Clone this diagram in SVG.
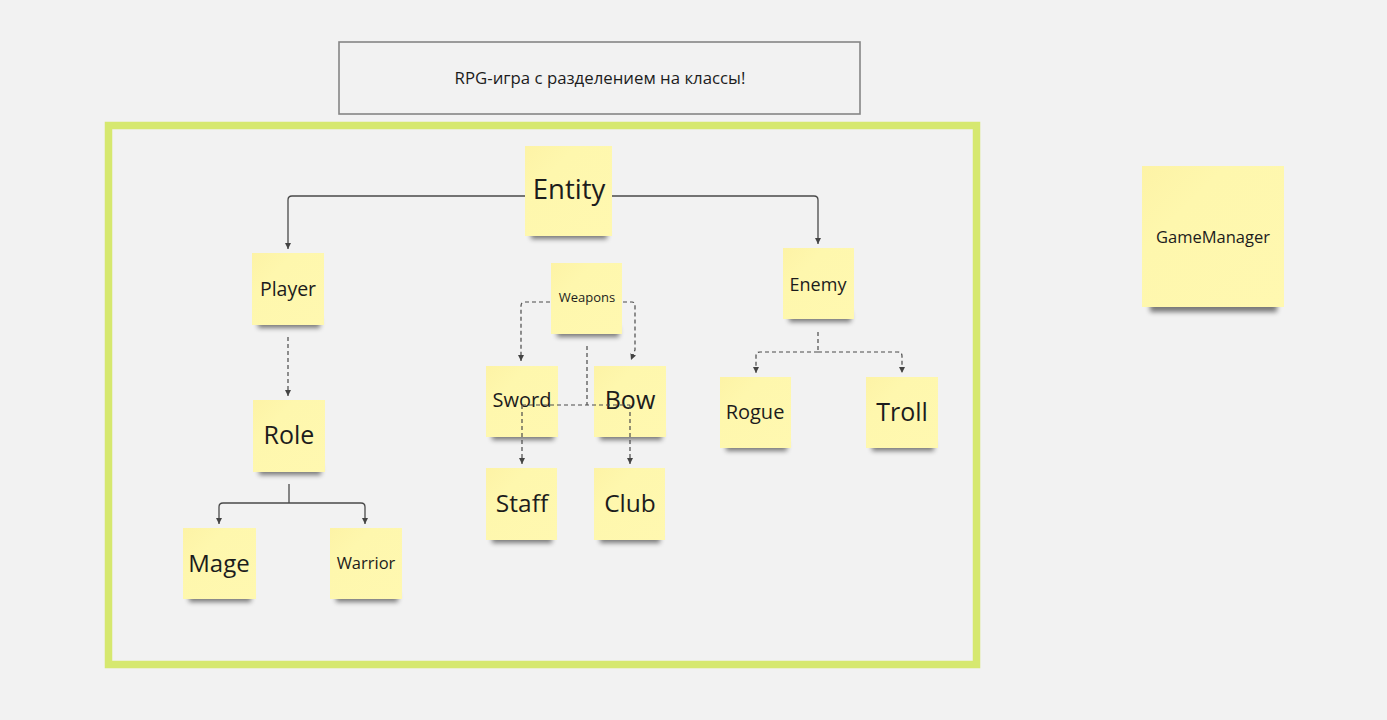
<svg xmlns="http://www.w3.org/2000/svg" width="1387" height="720" viewBox="0 0 1387 720">
<defs>
<style>
.note{fill:url(#sg)}
.sh{fill:#000;opacity:.5;filter:url(#blur)}
.t{font-family:"Open Sans","Noto Sans","Liberation Sans",sans-serif;fill:#1c1c1c;text-anchor:middle}
.solid{fill:none;stroke:#4a4a4a;stroke-width:1.3}
.dash{fill:none;stroke:#4a4a4a;stroke-width:1.2;stroke-dasharray:4 3}
</style>
<linearGradient id="sg" x1="0" y1="0" x2="1" y2="1">
<stop offset="0" stop-color="#fdf3a6"/>
<stop offset="0.3" stop-color="#fef7ad"/>
<stop offset="1" stop-color="#fff8b0"/>
</linearGradient>
<filter id="blur" x="-20%" y="-100%" width="140%" height="300%"><feGaussianBlur stdDeviation="2.5"/></filter>
<marker id="ar" viewBox="0 0 8 8" refX="7" refY="4" markerWidth="7" markerHeight="7" orient="auto" markerUnits="userSpaceOnUse">
<path d="M0,0.5 L7,4 L0,7.5 Z" fill="#444"/>
</marker>
</defs>
<rect width="1387" height="720" fill="#f2f2f2"/>

<g id="title">
<rect x="339" y="42" width="521" height="72" fill="#f2f2f2" stroke="#858585" stroke-width="1.6"/>
<text class="t" x="600" y="84" font-size="16.8" fill="#333">RPG-игра с разделением на классы!</text>
</g>

<g id="frame">
<rect x="108.5" y="125.5" width="868" height="539" fill="none" stroke="#d6e86f" stroke-width="7.5"/>
</g>

<g id="entity">
<rect class="sh" x="531" y="229" width="76" height="10"/>
<rect class="note" x="525" y="146" width="87" height="90"/>
<text class="t" x="569" y="199" font-size="27.5">Entity</text>
</g>
<g id="player">
<rect class="sh" x="258" y="318" width="62" height="10"/>
<rect class="note" x="252" y="253" width="72" height="72"/>
<text class="t" x="288" y="296" font-size="19.5">Player</text>
</g>
<g id="weapons">
<rect class="sh" x="557" y="327" width="62" height="10"/>
<rect class="note" x="551" y="263" width="71" height="71"/>
<text class="t" x="587" y="302" font-size="13">Weapons</text>
</g>
<g id="enemy">
<rect class="sh" x="789" y="312" width="62" height="10"/>
<rect class="note" x="783" y="248" width="71" height="71"/>
<text class="t" x="818" y="291" font-size="18">Enemy</text>
</g>
<g id="role">
<rect class="sh" x="259" y="465" width="62" height="10"/>
<rect class="note" x="253" y="400" width="72" height="72"/>
<text class="t" x="289" y="444" font-size="25">Role</text>
</g>
<g id="sword">
<rect class="sh" x="492" y="430" width="62" height="10"/>
<rect class="note" x="486" y="366" width="72" height="71"/>
<text class="t" x="522" y="407" font-size="20">Sword</text>
</g>
<g id="bow">
<rect class="sh" x="600" y="430" width="62" height="10"/>
<rect class="note" x="594" y="366" width="72" height="71"/>
<text class="t" x="630" y="409" font-size="25">Bow</text>
</g>
<g id="staff">
<rect class="sh" x="492" y="533" width="60" height="10"/>
<rect class="note" x="486" y="468" width="71" height="72"/>
<text class="t" x="522" y="512" font-size="24.5">Staff</text>
</g>
<g id="club">
<rect class="sh" x="600" y="533" width="60" height="10"/>
<rect class="note" x="594" y="468" width="71" height="72"/>
<text class="t" x="630" y="512" font-size="24.5">Club</text>
</g>
<g id="rogue">
<rect class="sh" x="726" y="441" width="61" height="10"/>
<rect class="note" x="720" y="377" width="71" height="71"/>
<text class="t" x="755" y="419" font-size="20">Rogue</text>
</g>
<g id="troll">
<rect class="sh" x="872" y="441" width="62" height="10"/>
<rect class="note" x="866" y="377" width="72" height="71"/>
<text class="t" x="902" y="421" font-size="25">Troll</text>
</g>
<g id="mage">
<rect class="sh" x="189" y="592" width="62" height="10"/>
<rect class="note" x="183" y="528" width="73" height="71"/>
<text class="t" x="219" y="572" font-size="24">Mage</text>
</g>
<g id="warrior">
<rect class="sh" x="336" y="592" width="62" height="10"/>
<rect class="note" x="330" y="528" width="72" height="71"/>
<text class="t" x="366" y="569" font-size="16.5">Warrior</text>
</g>
<g id="gamemanager">
<rect class="sh" x="1150" y="300" width="127" height="12"/>
<rect class="note" x="1142" y="166" width="142" height="141"/>
<text class="t" x="1213" y="243" font-size="16.5">GameManager</text>
</g>

<g id="connectors">
<path class="solid" d="M525,196 H292 Q288,196 288,200 V249" marker-end="url(#ar)"/>
<path class="solid" d="M612,196 H814 Q818,196 818,200 V244" marker-end="url(#ar)"/>
<path class="solid" d="M289,484 V503"/>
<path class="solid" d="M289,503 H223 Q219,503 219,507 V524" marker-end="url(#ar)"/>
<path class="solid" d="M289,503 H361 Q365,503 365,507 V524" marker-end="url(#ar)"/>
<path class="dash" d="M288,337 V396" marker-end="url(#ar)"/>
<path class="dash" d="M550,302 H525 Q521,302 521,306 V361" marker-end="url(#ar)"/>
<path class="dash" d="M623,302 H632 Q635,302 635,306 V350 L631,360" marker-end="url(#ar)"/>
<path class="dash" d="M587,346 V405"/>
<path class="dash" d="M522,405 H630"/>
<path class="dash" d="M522,405 V464" marker-end="url(#ar)"/>
<path class="dash" d="M630,405 V464" marker-end="url(#ar)"/>
<path class="dash" d="M818,332 V352"/>
<path class="dash" d="M818,352 H760 Q756,352 756,356 V373" marker-end="url(#ar)"/>
<path class="dash" d="M818,352 H898 Q902,352 902,356 V373" marker-end="url(#ar)"/>
</g>
</svg>
